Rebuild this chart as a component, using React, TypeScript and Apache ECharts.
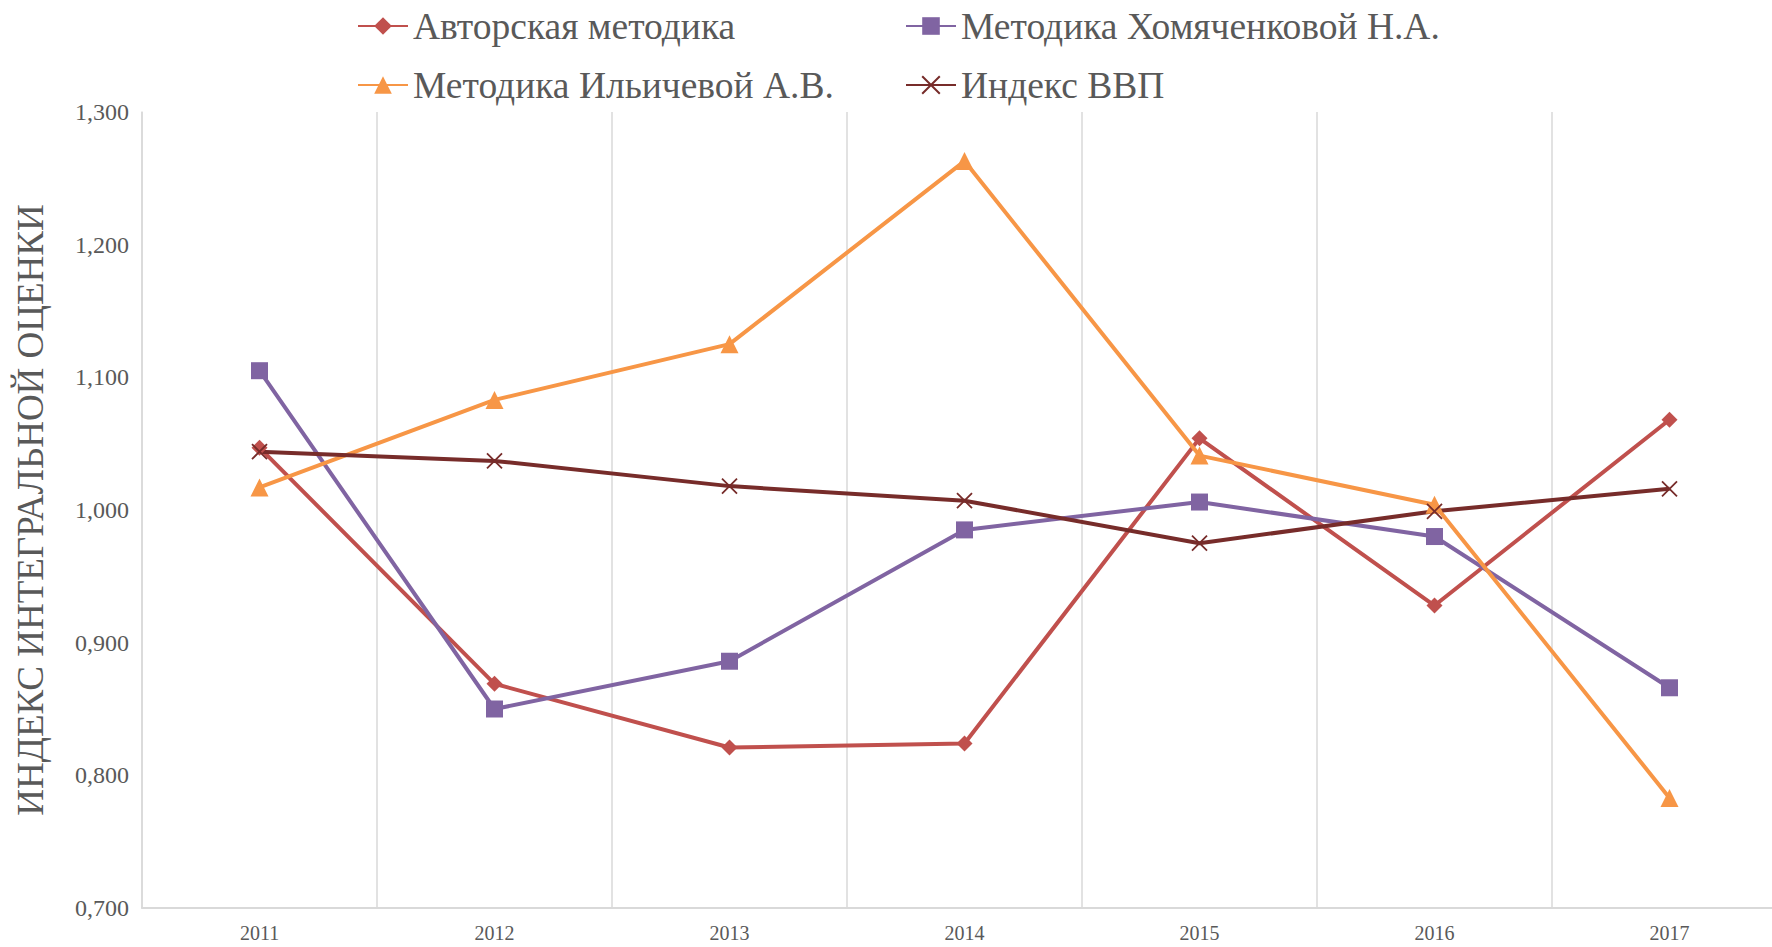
import React, { useEffect, useRef } from "react";
import * as echarts from "echarts";

const years = ["2011", "2012", "2013", "2014", "2015", "2016", "2017"];
const authorMethod = [1.047, 0.869, 0.821, 0.824, 1.054, 0.928, 1.068];
const khomyachenkovaMethod = [1.105, 0.85, 0.886, 0.985, 1.006, 0.98, 0.866];
const ilichevaMethod = [1.017, 1.083, 1.125, 1.263, 1.041, 1.004, 0.783];
const gdpIndex = [1.044, 1.037, 1.018, 1.007, 0.975, 0.999, 1.016];

const seriesNames = [
  "Авторская методика",
  "Методика Хомяченковой Н.А.",
  "Методика Ильичевой А.В.",
  "Индекс ВВП",
];
const yAxisName = "ИНДЕКС ИНТЕГРАЛЬНОЙ ОЦЕНКИ";

const FONT = "'Liberation Serif', 'Times New Roman', serif";

export default function App() {
  const ref = useRef<HTMLDivElement>(null);
  useEffect(() => {
    if (!ref.current) return;
    const chart = echarts.init(ref.current, null, { renderer: "svg" });
    const legendText = { fontFamily: FONT, fontSize: 37.5, color: "#595959" };
    const mkLegend = (name: string, left: number, top: number) => ({
      data: [name],
      left,
      top,
      itemWidth: 50,
      itemHeight: 22,
      itemGap: 5,
      textStyle: legendText,
      selectedMode: false,
    });
    chart.setOption({
      animation: false,
      backgroundColor: "#fff",
      legend: [
        mkLegend(seriesNames[0], 352, 2),
        mkLegend(seriesNames[1], 900, 2),
        mkLegend(seriesNames[2], 352, 61),
        mkLegend(seriesNames[3], 900, 61),
      ],
      grid: { left: 142, top: 112, bottom: 39, right: 3 },
      xAxis: {
        type: "category",
        data: years,
        boundaryGap: true,
        axisLine: { show: true, lineStyle: { color: "#D9D9D9", width: 2 } },
        axisTick: { show: false },
        axisLabel: { fontFamily: FONT, fontSize: 20, color: "#595959", margin: 15 },
        splitLine: { show: true, lineStyle: { color: "#D9D9D9", width: 1.5 } },
      },
      yAxis: {
        type: "value",
        min: 0.7,
        max: 1.3,
        interval: 0.1,
        name: yAxisName,
        nameLocation: "middle",
        nameGap: 93,
        nameTextStyle: { fontFamily: FONT, fontSize: 37, color: "#595959" },
        axisLine: { show: true, lineStyle: { color: "#D9D9D9", width: 1.5 } },
        axisTick: { show: false },
        splitLine: { show: false },
        axisLabel: {
          fontFamily: FONT,
          fontSize: 24,
          color: "#595959",
          margin: 13,
          formatter: (v: number) => v.toFixed(3).replace(".", ","),
        },
      },
      series: [
        {
          name: seriesNames[0],
          type: "line",
          data: authorMethod,
          symbol: "diamond",
          symbolSize: 16,
          lineStyle: { color: "#C0504D", width: 4 },
          itemStyle: { color: "#C0504D" },
        },
        {
          name: seriesNames[1],
          type: "line",
          data: khomyachenkovaMethod,
          symbol: "rect",
          symbolSize: 17,
          lineStyle: { color: "#8064A2", width: 4 },
          itemStyle: { color: "#8064A2" },
        },
        {
          name: seriesNames[2],
          type: "line",
          data: ilichevaMethod,
          symbol: "triangle",
          symbolSize: 18,
          lineStyle: { color: "#F79646", width: 4 },
          itemStyle: { color: "#F79646" },
        },
        {
          name: seriesNames[3],
          type: "line",
          data: gdpIndex,
          symbol: "path://M0,0L10,10M10,0L0,10",
          symbolSize: 15,
          lineStyle: { color: "#772C2A", width: 4 },
          itemStyle: { color: "#772C2A", borderColor: "#772C2A", borderWidth: 1.8 },
        },
      ],
    });
    return () => chart.dispose();
  }, []);
  return (
    <div
      style={{
        position: "fixed",
        left: 0,
        top: 0,
        width: 1772,
        height: 947,
        overflow: "hidden",
        background: "#fff",
      }}
    >
      <div ref={ref} style={{ width: 1790, height: 947 }} />
    </div>
  );
}
